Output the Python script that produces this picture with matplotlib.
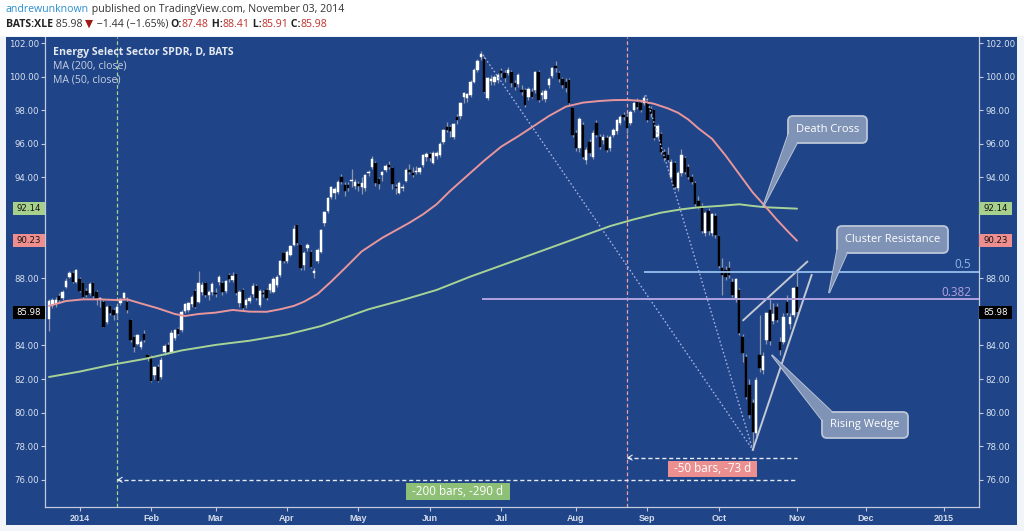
import numpy as np
import pandas as pd
import matplotlib
matplotlib.use("Agg")
import matplotlib.pyplot as plt
from matplotlib.patches import Rectangle, FancyBboxPatch, Polygon
from matplotlib.transforms import Affine2D

# ---------------- data ----------------
holidays = ["2013-12-25", "2014-01-01", "2014-01-20", "2014-02-17", "2014-04-18",
            "2014-05-26", "2014-07-04", "2014-09-01"]
dates = pd.bdate_range("2013-12-18", "2014-11-03", freq="C", holidays=holidays)

opens = [85.60, 86.40, 86.45, 86.95, 86.80, 87.46, 88.09, 88.33, 87.80, 87.93,
         87.70, 87.26, 87.14, 87.70, 87.20, 86.75, 86.60, 85.41, 86.35, 86.10,
         85.90, 86.55, 86.80, 86.60, 85.50, 84.48, 84.10, 83.90, 84.70, 83.45,
         83.33, 82.24, 82.74, 82.14, 83.63, 84.00, 83.63, 84.42, 85.00, 84.92,
         86.05, 86.10, 86.45, 87.24, 86.60, 87.16, 87.70, 87.00, 87.16, 87.10,
         87.80, 87.73, 87.24, 88.19, 87.89, 88.23, 86.50, 87.30, 86.40, 86.64,
         87.06, 87.55, 86.40, 87.10, 87.30, 87.30, 87.20, 87.60, 88.19, 89.48,
         89.02, 89.38, 90.00, 91.15, 89.95, 88.78, 89.78, 89.58, 88.29, 89.04,
         89.58, 91.30, 92.02, 92.81, 93.09, 93.15, 94.04, 93.55, 93.53, 93.78,
         93.49, 93.59, 93.41, 93.35, 94.24, 94.64, 94.84, 93.90, 94.14, 94.44,
         94.74, 94.54, 93.45, 93.09, 93.35, 93.80, 94.44, 94.28, 94.30, 94.34,
         94.74, 95.20, 95.39, 94.88, 95.27, 95.34, 96.13, 96.98, 96.98, 96.43,
         97.58, 97.66, 98.77, 98.71, 98.91, 99.70, 100.40, 101.19, 101.03, 98.70,
         99.75, 99.70, 99.80, 100.36, 100.24, 100.24, 100.26, 99.60, 99.56, 99.20,
         99.20, 98.81, 99.10, 99.20, 100.26, 98.90, 98.65, 99.50, 100.04, 100.63,
         100.24, 99.86, 99.70, 99.80, 98.11, 96.62, 95.73, 97.12, 95.04, 96.13,
         95.24, 97.22, 96.43, 96.23, 96.33, 95.73, 96.53, 96.78, 97.22, 97.72,
         97.62, 97.22, 98.01, 98.51, 98.41, 98.41, 98.55, 98.10, 98.00, 96.43,
         96.58, 95.53, 95.33, 94.05, 94.84, 93.35, 94.24, 95.14, 94.60, 94.05,
         93.65, 92.60, 92.30, 90.70, 92.00, 90.70, 91.70, 90.50, 88.60, 88.50,
         88.60, 87.80, 86.74, 87.30, 84.52, 83.33, 81.64, 80.55, 78.81, 83.43,
         82.54, 84.32, 86.11, 85.47, 86.31, 84.22, 84.22, 86.60, 85.28, 85.81,
         87.48]
highs = [86.75, 86.80, 86.90, 87.10, 87.30, 88.00, 88.40, 88.45, 88.55, 88.10,
         87.80, 87.40, 87.75, 87.80, 87.30, 86.90, 86.70, 86.40, 86.40, 86.20,
         86.40, 86.80, 87.20, 86.90, 85.60, 84.60, 84.70, 84.30, 84.90, 83.50,
         83.40, 82.80, 82.90, 83.30, 84.10, 84.20, 84.90, 85.00, 85.10, 86.10,
         86.50, 86.60, 87.00, 87.35, 88.43, 87.75, 87.80, 87.30, 87.80, 87.40,
         88.20, 87.85, 87.90, 88.30, 88.35, 88.30, 87.30, 87.40, 86.80, 87.00,
         87.70, 87.65, 87.35, 87.30, 87.40, 87.70, 88.05, 88.20, 89.10, 89.55,
         89.65, 90.00, 91.15, 91.25, 90.05, 89.60, 90.10, 89.70, 88.60, 89.80,
         90.95, 92.00, 92.85, 93.50, 93.40, 93.85, 94.20, 93.70, 93.70, 94.50,
         93.90, 93.80, 94.00, 94.20, 94.45, 95.30, 94.95, 94.00, 94.40, 94.80,
         94.95, 94.60, 93.60, 93.80, 93.60, 94.55, 94.80, 94.60, 94.70, 94.60,
         95.40, 95.50, 95.50, 95.55, 95.60, 96.10, 96.90, 97.30, 97.10, 97.25,
         97.80, 98.50, 99.10, 99.05, 99.80, 100.50, 101.05, 101.50, 101.20, 100.00,
         100.10, 100.10, 100.20, 100.50, 100.40, 100.55, 100.40, 99.80, 100.20, 99.50,
         99.30, 99.40, 99.30, 100.35, 100.40, 99.20, 99.25, 99.95, 100.60, 100.90,
         100.35, 100.00, 99.90, 99.90, 98.20, 96.80, 97.60, 97.30, 95.80, 96.30,
         96.80, 97.40, 96.60, 96.60, 96.50, 96.55, 96.95, 97.50, 97.70, 97.90,
         97.80, 98.00, 98.50, 98.70, 98.55, 98.90, 98.70, 98.25, 98.10, 97.20,
         96.70, 95.70, 95.80, 95.10, 95.00, 94.40, 95.70, 95.30, 94.80, 94.20,
         93.80, 92.90, 92.50, 92.00, 92.20, 91.90, 91.90, 90.60, 89.20, 88.70,
         89.00, 88.00, 88.00, 87.40, 84.70, 83.50, 82.00, 80.80, 82.10, 85.80,
         83.60, 86.00, 86.80, 86.50, 86.50, 84.50, 85.90, 87.00, 85.90, 87.50,
         88.41]
lows = [84.85, 86.20, 86.30, 86.60, 86.70, 87.40, 88.00, 87.70, 87.70, 87.20,
        86.80, 86.90, 87.00, 86.80, 86.40, 86.30, 85.10, 85.30, 85.80, 85.50,
        85.60, 86.40, 86.70, 85.90, 84.20, 83.60, 84.00, 83.80, 84.20, 83.10,
        81.80, 82.00, 81.80, 82.00, 83.40, 83.50, 83.60, 84.30, 84.60, 84.80,
        85.90, 86.00, 86.30, 86.20, 86.50, 87.00, 86.90, 86.70, 87.00, 86.90,
        87.60, 87.00, 87.10, 87.80, 87.80, 87.00, 86.30, 86.10, 86.20, 86.50,
        86.90, 86.70, 86.30, 86.90, 86.70, 87.10, 87.10, 87.50, 88.10, 88.90,
        88.90, 89.30, 89.90, 90.00, 88.50, 88.50, 89.60, 88.60, 88.00, 88.90,
        89.50, 91.10, 91.90, 92.70, 92.70, 93.00, 93.60, 92.90, 93.20, 93.40,
        93.30, 93.20, 93.00, 93.20, 94.10, 94.50, 93.50, 93.30, 93.80, 94.30,
        94.50, 93.30, 93.00, 93.00, 93.20, 93.70, 94.20, 94.00, 94.20, 94.20,
        94.60, 95.00, 95.00, 94.80, 95.10, 95.20, 96.00, 96.70, 96.40, 96.30,
        97.20, 97.50, 98.40, 98.50, 98.80, 99.60, 100.30, 101.00, 99.00, 98.60,
        99.50, 99.50, 99.60, 100.00, 99.70, 100.10, 99.40, 99.20, 99.40, 98.90,
        98.20, 98.60, 98.70, 99.00, 98.50, 98.60, 98.50, 99.30, 99.90, 100.30,
        99.70, 99.30, 99.10, 98.30, 96.40, 95.60, 95.50, 95.10, 94.80, 95.30,
        95.10, 96.40, 95.70, 96.00, 95.50, 95.60, 96.40, 96.60, 97.10, 97.40,
        96.60, 97.10, 97.90, 98.10, 97.90, 98.30, 97.30, 97.60, 96.20, 96.30,
        95.40, 95.00, 94.90, 93.90, 93.30, 93.20, 94.10, 94.20, 93.90, 93.60,
        92.30, 92.10, 90.70, 90.50, 90.60, 90.50, 90.40, 88.60, 87.00, 87.90,
        88.00, 86.90, 86.60, 84.60, 83.00, 80.80, 79.70, 77.78, 78.60, 82.40,
        82.30, 84.10, 84.00, 85.30, 85.40, 83.40, 84.10, 85.80, 85.00, 85.70,
        85.91]
closes = [86.65, 86.70, 86.70, 86.70, 87.20, 87.86, 88.29, 87.80, 88.49, 87.26,
          86.90, 87.00, 87.66, 86.94, 86.80, 86.85, 85.12, 86.30, 85.95, 85.80,
          86.30, 86.75, 87.10, 86.10, 84.32, 83.93, 84.60, 84.20, 84.30, 83.25,
          81.90, 82.74, 81.88, 83.13, 83.99, 83.63, 84.72, 84.92, 84.70, 86.00,
          86.44, 86.50, 86.90, 86.30, 87.70, 87.60, 87.00, 87.20, 87.63, 87.05,
          88.05, 87.16, 87.83, 87.95, 88.15, 87.10, 87.20, 86.20, 86.70, 86.84,
          87.55, 86.84, 87.24, 87.07, 86.84, 87.65, 87.95, 88.10, 89.02, 89.02,
          89.54, 89.93, 90.90, 90.10, 88.60, 89.52, 89.97, 88.68, 88.43, 89.68,
          90.87, 91.92, 92.75, 93.41, 93.29, 93.74, 93.74, 93.21, 93.35, 93.82,
          93.74, 93.49, 93.69, 94.14, 94.34, 95.07, 93.68, 93.60, 94.34, 94.68,
          94.64, 93.60, 93.35, 93.68, 93.45, 94.44, 94.30, 94.14, 94.40, 94.54,
          95.33, 95.40, 95.14, 95.47, 95.43, 95.99, 96.82, 96.82, 96.78, 97.18,
          97.42, 98.41, 99.01, 98.97, 99.70, 100.40, 100.95, 101.35, 99.10, 99.90,
          99.85, 100.00, 100.10, 100.20, 99.90, 100.40, 99.60, 99.40, 100.10, 99.10,
          98.31, 99.24, 98.81, 100.26, 98.61, 99.00, 99.16, 99.84, 100.50, 100.49,
          99.84, 99.50, 99.30, 98.41, 96.53, 95.73, 97.46, 95.24, 95.63, 95.43,
          96.62, 96.53, 95.83, 96.43, 95.63, 96.43, 96.82, 97.42, 97.58, 97.58,
          96.92, 97.91, 98.41, 98.21, 98.01, 98.71, 97.42, 97.80, 96.33, 97.06,
          95.53, 95.14, 95.04, 94.94, 93.45, 94.24, 95.33, 94.34, 94.05, 93.75,
          92.40, 92.20, 90.80, 91.90, 90.80, 91.80, 90.60, 88.70, 88.20, 88.10,
          88.20, 87.00, 87.93, 84.72, 83.53, 80.95, 79.86, 78.87, 81.94, 82.64,
          83.37, 85.91, 84.28, 85.87, 85.51, 83.73, 85.71, 85.91, 85.71, 87.40,
          85.98]

ma50_idx = [0, 5, 10, 15, 20, 23, 27, 32, 37, 40, 44, 49, 54, 59, 64, 68, 72, 75, 79,
            83, 87, 92, 98, 102, 106, 110, 114, 118, 123, 128, 133, 138, 142, 147,
            152, 157, 162, 166, 170, 174, 178, 182, 185, 188, 191, 195, 199, 203,
            207, 211, 214, 217, 220]
ma50_val = [86.35, 86.64, 86.74, 86.74, 86.70, 86.74, 86.50, 86.21, 85.87, 85.75, 85.87,
            85.95, 86.11, 86.01, 86.00, 86.15, 86.35, 86.60, 87.06, 87.80, 88.59, 89.60,
            90.40, 90.85, 91.30, 91.80, 92.40, 93.20, 94.10, 95.00, 95.83, 96.45, 96.98,
            97.65, 98.21, 98.45, 98.55, 98.60, 98.61, 98.56, 98.38, 98.11, 97.85, 97.45,
            96.92, 96.30, 95.30, 94.20, 93.10, 92.20, 91.50, 90.85, 90.23]
ma200_idx = [0, 9, 18, 28, 39, 49, 59, 70, 80, 87, 94, 104, 114, 124, 135, 150, 165,
             172, 180, 186, 191, 197, 203, 207, 211, 220]
ma200_val = [82.12, 82.44, 82.83, 83.19, 83.70, 84.03, 84.28, 84.65, 85.15, 85.65, 86.15,
             86.70, 87.30, 88.10, 88.90, 90.00, 91.10, 91.50, 91.90, 92.10, 92.22, 92.30,
             92.40, 92.30, 92.22, 92.14]

yticks = list(range(76, 104, 2))
future_tick_pos = [240.3, 263.2]
future_tick_lab = ["Dec", "2015"]
bars_back = [200, 50]
fib_labels = ["0.5", "0.382"]
fib_prices = [88.35, 86.75]
fib_start = [175.3, 127.5]

# ---------------- layout helpers ----------------
W, H = 1024, 531
BLUE = "#1f4488"
WICK = "#8e97ab"
PINK = "#e8969c"
GREEN = "#a8d396"
FONT = ["Open Sans", "DejaVu Sans"]


def px2x(xp):
    return 220 + (xp - 797) / 3.4


def px2y(yp):
    return 102 - (yp - 43) / 16.8


def ypx(v):
    return 43 + (102 - v) * 16.8


fig = plt.figure(figsize=(W / 100, H / 100), dpi=100)
fig.patch.set_facecolor("#f1f4f8")
P = Affine2D().scale(1 / W, -1 / H).translate(0, 1) + fig.transFigure

fig.add_artist(Rectangle((0, 0), W, 36, transform=P, fc="white", ec="none", zorder=0))
fig.add_artist(Rectangle((6, 37), 1011, 488, transform=P, fc=BLUE, ec="none", zorder=0))

ax = fig.add_axes([45.3 / W, 1 - 507 / H, (979 - 45.3) / W, (507 - 37) / H])
ax.set_facecolor(BLUE)
ax.set_xlim(px2x(45.3), px2x(979))
ax.set_ylim(px2y(507), px2y(37))

o = np.array(opens); h = np.array(highs); l = np.array(lows); c = np.array(closes)
x = np.arange(len(c))
up = c >= o
ax.vlines(x, l, h, color=WICK, lw=0.9, zorder=3)
ax.bar(x[up], np.maximum((c - o)[up], 0.03), bottom=o[up], width=0.68,
       color="white", edgecolor="white", lw=0.3, zorder=4)
ax.bar(x[~up], np.maximum((o - c)[~up], 0.03), bottom=c[~up], width=0.68,
       color="black", edgecolor="black", lw=0.3, zorder=4)

ax.plot(ma200_idx, ma200_val, color=GREEN, lw=1.4, zorder=5, solid_capstyle="round",
        solid_joinstyle="round")
ax.plot(ma50_idx, ma50_val, color=PINK, lw=1.4, zorder=5, solid_capstyle="round",
        solid_joinstyle="round")

# vertical dashed markers
last = len(c) - 1
ax.axvline(last - bars_back[0], color="#a9d18e", lw=0.9, ls=(0, (3, 2)), zorder=2)
ax.axvline(last - bars_back[1], color="#e9a0a6", lw=0.9, ls=(0, (3, 2)), zorder=2)

# measurement lines
for xs, yv in [(last - bars_back[0], 76.0), (last - bars_back[1], 77.32)]:
    ax.plot([xs, last], [yv, yv], color="#e6eaf3", lw=1.0, ls=(0, (3, 2)), zorder=6)
    ax.annotate("", xy=(xs, yv), xytext=(xs + 1.6, yv),
                arrowprops=dict(arrowstyle="->,head_length=0.3,head_width=0.18",
                                color="#e6eaf3", lw=0.8), zorder=6)

# fan dotted lines
ax.plot([127.6, 207], [101.3, lows[207]], color="#a4aee0", lw=1.0, ls=(0, (1.2, 1.6)), zorder=6)
ax.plot([175.5, 207], [98.9, lows[207]], color="#a4aee0", lw=1.0, ls=(0, (1.2, 1.6)), zorder=6)

# rising wedge lines
ax.plot([207, 224.3], [lows[207], 88.19], color="#c3c8d2", lw=1.4, zorder=6)
ax.plot([204.2, 223.0], [85.5, 88.98], color="#c3c8d2", lw=1.4, zorder=6)

# fib levels
fib_cols = ["#8db7e8", "#b3a3e0"]
xr = px2x(979)
for lab, pv, xs, col, ty in zip(fib_labels, fib_prices, fib_start, fib_cols, [265, 292]):
    ax.plot([xs, xr], [pv, pv], color=col, lw=1.4, zorder=6)
    fig.text(971 / W, 1 - ty / H, lab, color=col, fontsize=8.5, ha="right", va="center",
             family=FONT)

# axis price labels (these cover the nearby tick labels, as in the reference)
price_tags = [(ma200_val[-1], "#a7d08d", "#111111"), (ma50_val[-1], "#ef8e8e", "#111111"),
              (closes[-1], "#000000", "#ffffff")]
hidden = {int(round(v)) for v, _, _ in price_tags if abs(v - round(v / 2) * 2) < 0.5}

# ticks
ax.set_yticks(yticks)
ax.set_yticklabels(["" if v in hidden else f"{v:.2f}" for v in yticks])
ax.tick_params(axis="y", left=True, right=True, labelleft=True, labelright=True,
               length=3, width=0.8, color="#c3cbdb", labelcolor="#dbe2ee",
               labelsize=6.2, pad=1.5)
month_pos, month_lab = [], []
for i in range(1, len(dates)):
    if dates[i].month != dates[i - 1].month:
        month_pos.append(i)
        month_lab.append(str(dates[i].year) if dates[i].month == 1 else dates[i].strftime("%b"))
month_pos += future_tick_pos
month_lab += future_tick_lab
ax.set_xticks(month_pos)
ax.set_xticklabels(month_lab)
ax.tick_params(axis="x", length=3, width=0.8, color="#c3cbdb", labelcolor="#d3dbe9",
               labelsize=6.5, pad=2)
for t in ax.get_xticklabels():
    t.set_fontweight("bold")
    t.set_family("Liberation Sans")
for t in ax.get_yticklabels():
    t.set_family("DejaVu Sans")
for s in ["left", "right", "bottom"]:
    ax.spines[s].set_color("#c3cbdb")
    ax.spines[s].set_linewidth(0.9)
ax.spines["top"].set_visible(False)

for v, fc, tc in price_tags:
    yy = ypx(v)
    for x0, x1 in [(12.5, 45), (979, 1012)]:
        fig.add_artist(Rectangle((x0, yy - 6.5), x1 - x0, 13, transform=P, fc=fc, ec="none", zorder=7))
        fig.text((x0 + x1) / 2 / W, 1 - yy / H, f"{v:.2f}", color=tc, fontsize=6.2,
                 ha="center", va="center", family="DejaVu Sans", zorder=8)

# measurement labels
for (x0, y0, x1, y1), txt, fc in [((405.5, 483, 509.5, 500), "-200 bars, -290 d", "#8ebf77"),
                                 ((668, 461, 757, 477), "-50 bars, -73 d", "#ec8f90")]:
    fig.add_artist(Rectangle((x0, y0), x1 - x0, y1 - y0, transform=P, fc=fc, ec="none", zorder=7))
    fig.text((x0 + x1) / 2 / W, 1 - (y0 + y1) / 2 / H, txt, color="white", fontsize=8.4,
             ha="center", va="center", family=FONT, zorder=8)

# callouts
CFC = "#7f93b6"
CEC = "#bcc6d8"
callouts = [
    ("Death Cross", (788, 116, 867, 143), [(763, 207), (788.5, 134), (793, 137), (797, 143)]),
    ("Cluster Resistance", (837, 226, 948, 253), [(829, 293), (837.5, 249), (842, 250), (847, 253)]),
    ("Rising Wedge", (822, 412, 908, 438), [(771.7, 355), (832, 412), (827, 416), (822, 420)]),
]
for txt, (x0, y0, x1, y1), poly in callouts:
    fig.add_artist(Polygon(poly, closed=True, transform=P, fc=CFC, ec=CEC, lw=1.3, zorder=9))
    fig.add_artist(FancyBboxPatch((x0, y0), x1 - x0, y1 - y0,
                                  boxstyle="round,pad=0,rounding_size=5", transform=P,
                                  fc=CFC, ec=CEC, lw=1.3, zorder=10))
    fig.add_artist(Polygon(poly, closed=True, transform=P, fc=CFC, ec="none", zorder=11))
    fig.text((x0 + x1) / 2 / W, 1 - (y0 + y1) / 2 / H, txt, color="white", fontsize=8,
             ha="center", va="center", family=FONT, zorder=12)

# legend
fig.text(53 / W, 1 - 52 / H, "Energy Select Sector SPDR, D, BATS", color="#e4e9f2",
         fontsize=7.6, fontweight="bold", ha="left", va="center", family=FONT, zorder=8)
fig.text(53 / W, 1 - 66.5 / H, "MA (200, close)", color="#c7d0e2", fontsize=7.6,
         ha="left", va="center", family=FONT, zorder=8)
fig.text(53 / W, 1 - 80.5 / H, "MA (50, close)", color="#c7d0e2", fontsize=7.6,
         ha="left", va="center", family=FONT, zorder=8)

# header
renderer = fig.canvas.get_renderer()


def chain(parts, xp, yp, size):
    for s, col, wt in parts:
        t = fig.text(xp / W, 1 - yp / H, s, color=col, fontsize=size, fontweight=wt,
                     family=FONT, ha="left", va="center")
        xp += t.get_window_extent(renderer=renderer).width


chain([("andrewunknown", "#2a8ed0", "normal"),
       (" published on TradingView.com, November 03, 2014", "#333333", "normal")], 6, 9.5, 7.6)
RED = "#c0302b"
chain([("BATS:XLE", "#222222", "bold"), (" 85.98 ", "#333333", "normal"),
       ("▼", "#9e1b1b", "normal"), (" \u22121.44 (\u22121.65%) ", "#333333", "normal"),
       ("O:", "#222222", "bold"), ("87.48", RED, "normal"),
       (" H:", "#222222", "bold"), ("88.41", RED, "normal"),
       (" L:", "#222222", "bold"), ("85.91", RED, "normal"),
       (" C:", "#222222", "bold"), ("85.98", RED, "normal")], 6, 24.5, 7.6)

fig.savefig("out.png", dpi=100, facecolor=fig.get_facecolor())
